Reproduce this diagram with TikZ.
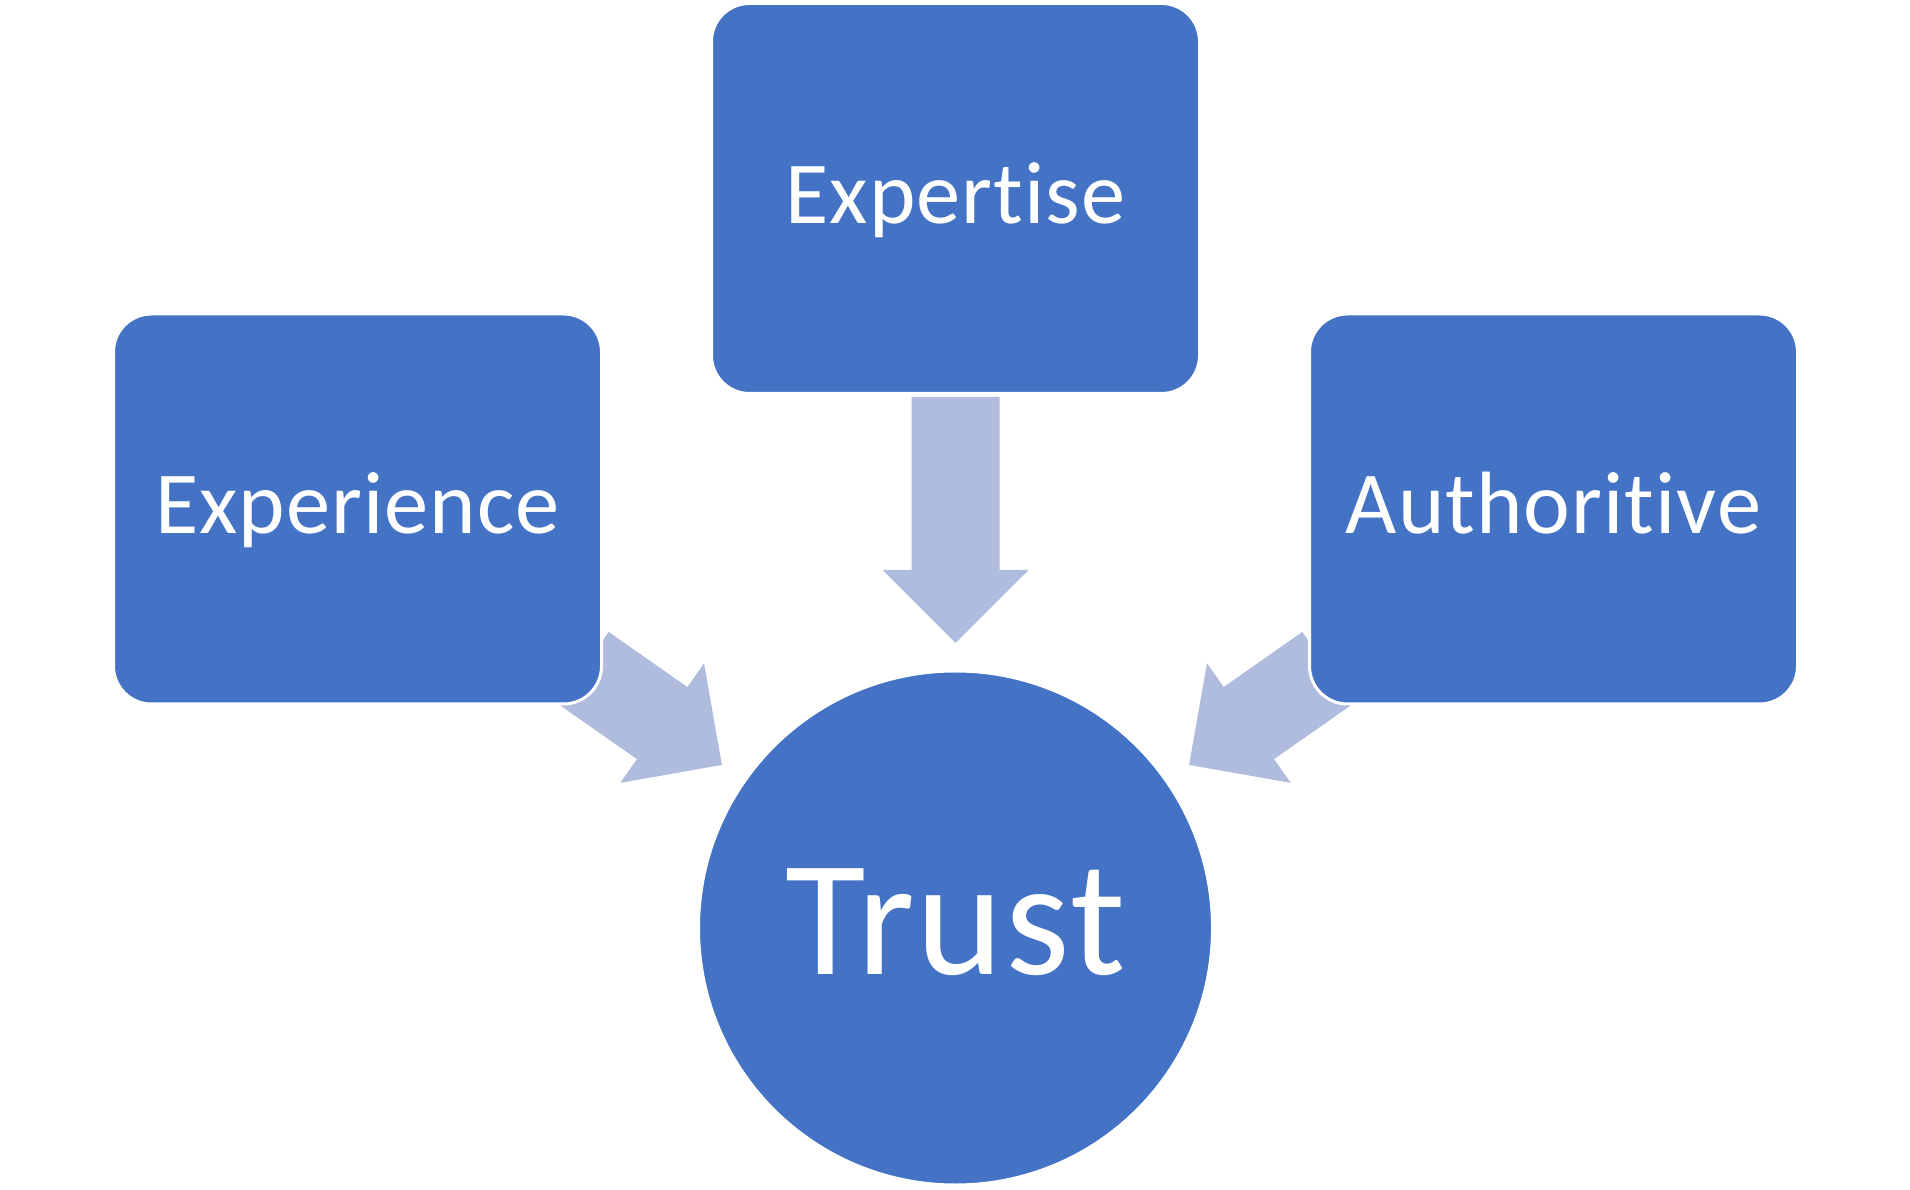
\documentclass[tikz,border=0pt]{standalone}
\usepackage{fontspec}
\setmainfont[Ligatures={NoCommon,NoContextual},LetterSpace=1.2]{Carlito}
\usetikzlibrary{calc}
\definecolor{boxblue}{RGB}{68,114,196}
\definecolor{arrowblue}{RGB}{175,188,222}
\tikzset{
  box/.style={draw=white, line width=3pt, fill=boxblue, rounded corners=38pt,
    minimum width=488pt, minimum height=390pt, inner sep=0pt, text=white,
    font=\fontsize{88.5}{100}\selectfont, text height=75pt, text depth=25pt},
  hub/.style={circle, draw=white, line width=3pt, fill=boxblue, minimum size=514pt,
    inner sep=0pt, text=white, font=\fontsize{165}{180}\selectfont,
    text height=140pt, text depth=47pt},
  blockarrow/.style={fill=arrowblue, draw=none},
}
\begin{document}
\begin{tikzpicture}[x=1pt,y=1pt]
\useasboundingbox (0,0) rectangle (1910,1189);
% arrow back points
\coordinate (aL) at (583.5,521);
\coordinate (aT) at (955.5,792);
\coordinate (aR) at (1327.5,521);
% block arrows
\begin{scope}[shift={(aT)}, rotate=-90]
  \fill[blockarrow] (0,-44) -- (173,-44) -- (173,-73) -- (246,0) -- (173,73) -- (173,44) -- (0,44) -- cycle;
\end{scope}
\begin{scope}[shift={(aL)}, rotate=-35]
  \fill[blockarrow] (0,-44) -- (96,-44) -- (96,-73) -- (169,0) -- (96,73) -- (96,44) -- (0,44) -- cycle;
\end{scope}
\begin{scope}[shift={(aR)}, rotate=-145]
  \fill[blockarrow] (0,-44) -- (96,-44) -- (96,-73) -- (169,0) -- (96,73) -- (96,44) -- (0,44) -- cycle;
\end{scope}
% nodes
\node[box] (experience) at (357.5,680) {Experience};
\node[box] (expertise) at (955.5,990.5) {Expertise};
\node[box] (authoritive) at (1553.5,680) {Authoritive};
\node[hub] (trust) at (955.5,261) {Trust};
\end{tikzpicture}
\end{document}
